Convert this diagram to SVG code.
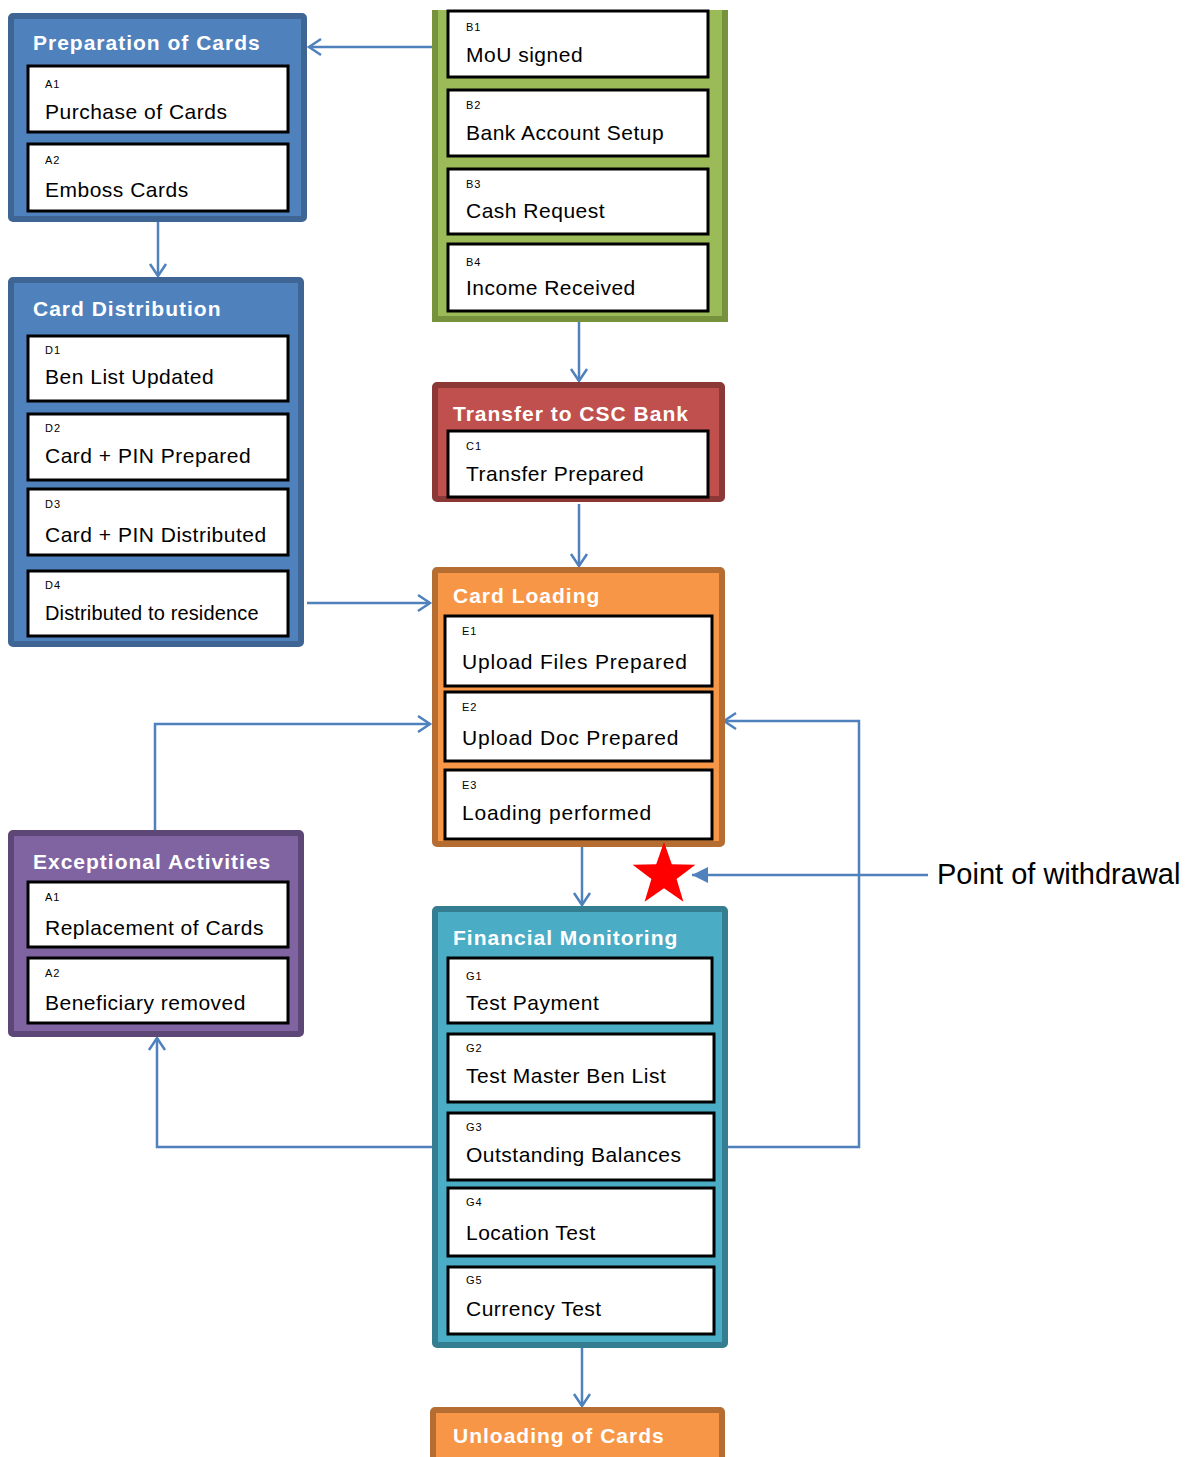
<svg xmlns="http://www.w3.org/2000/svg" width="1201" height="1457" viewBox="0 0 1201 1457">
<defs>
<style>
.ttl{font-family:"Liberation Sans",Arial,sans-serif;font-weight:bold;font-size:21px;fill:#fff;letter-spacing:1px}
.lbl{font-family:"Liberation Sans",Arial,sans-serif;font-size:11px;fill:#000;letter-spacing:1px}
.txt{font-family:"Liberation Sans",Arial,sans-serif;font-size:21px;fill:#000;letter-spacing:0.5px}
.sp{letter-spacing:0.8px}
.box{fill:#fff;stroke:#000;stroke-width:3}
.con{fill:none;stroke:#4f81bd;stroke-width:2.5}
.blue{fill:#4f81bd;stroke:#3e6594;stroke-width:6}
.green{fill:#9bbb59}
.red{fill:#c0504d;stroke:#8c3836;stroke-width:6}
.orange{fill:#f79646;stroke:#b66d31;stroke-width:6}
.purple{fill:#8064a2;stroke:#5c4776;stroke-width:6}
.teal{fill:#4bacc6;stroke:#357d91;stroke-width:6}
</style>
<marker id="arr" markerUnits="userSpaceOnUse" markerWidth="16" markerHeight="20" refX="13" refY="10" orient="auto">
<path d="M1,2 L13,10 L1,18" fill="none" stroke="#4f81bd" stroke-width="2.5"/>
</marker>
<marker id="tri" markerUnits="userSpaceOnUse" markerWidth="18" markerHeight="18" refX="16" refY="9" orient="auto">
<path d="M0,1 L16,9 L0,17 Z" fill="#4f81bd"/>
</marker>
</defs>

<g id="connectors">
<path class="con" d="M432,47 H309" marker-end="url(#arr)"/>
<path class="con" d="M158,222 V276" marker-end="url(#arr)"/>
<path class="con" d="M579,322 V381" marker-end="url(#arr)"/>
<path class="con" d="M579,504 V566" marker-end="url(#arr)"/>
<path class="con" d="M307,603 H430" marker-end="url(#arr)"/>
<path class="con" d="M155,830 V724 H430" marker-end="url(#arr)"/>
<path class="con" d="M582,847 V905" marker-end="url(#arr)"/>
<path class="con" d="M728,1147 H859 V721 H724" marker-end="url(#arr)"/>
<path class="con" d="M432,1147 H157 V1038" marker-end="url(#arr)"/>
<path class="con" d="M582,1348 V1406" marker-end="url(#arr)"/>
<path class="con" d="M928,875 H692" marker-end="url(#tri)"/>
</g>

<g id="prep">
<rect class="blue" x="11" y="16" width="293" height="203" rx="2"/>
<text class="ttl" x="33" y="50">Preparation of Cards</text>
<rect class="box" x="28" y="66" width="260" height="66"/>
<text class="lbl" x="45" y="88">A1</text>
<text class="txt" x="45" y="119">Purchase of Cards</text>
<rect class="box" x="28" y="144" width="260" height="67"/>
<text class="lbl" x="45" y="164">A2</text>
<text class="txt" x="45" y="197">Emboss Cards</text>
</g>

<g id="bank">
<rect class="green" x="432" y="10" width="296" height="312"/>
<path d="M435,10 V319 H725 V10" fill="none" stroke="#76923c" stroke-width="6"/>
<rect class="box" x="448" y="11" width="260" height="66"/>
<text class="lbl" x="466" y="31">B1</text>
<text class="txt" x="466" y="62">MoU signed</text>
<rect class="box" x="448" y="90" width="260" height="66"/>
<text class="lbl" x="466" y="109">B2</text>
<text class="txt" x="466" y="140">Bank Account Setup</text>
<rect class="box" x="448" y="169" width="260" height="65"/>
<text class="lbl" x="466" y="188">B3</text>
<text class="txt" x="466" y="218">Cash Request</text>
<rect class="box" x="448" y="244" width="260" height="67"/>
<text class="lbl" x="466" y="266">B4</text>
<text class="txt" x="466" y="295">Income Received</text>
</g>

<g id="distribution">
<rect class="blue" x="11" y="280" width="290" height="364" rx="2"/>
<text class="ttl" x="33" y="316">Card Distribution</text>
<rect class="box" x="28" y="336" width="260" height="65"/>
<text class="lbl" x="45" y="354">D1</text>
<text class="txt" x="45" y="384">Ben List Updated</text>
<rect class="box" x="28" y="414" width="260" height="66"/>
<text class="lbl" x="45" y="432">D2</text>
<text class="txt" x="45" y="463">Card + PIN Prepared</text>
<rect class="box" x="28" y="489" width="260" height="66"/>
<text class="lbl" x="45" y="508">D3</text>
<text class="txt" x="45" y="542">Card + PIN Distributed</text>
<rect class="box" x="28" y="571" width="260" height="65"/>
<text class="lbl" x="45" y="589">D4</text>
<text class="txt" x="45" y="620" style="font-size:20px;letter-spacing:0.15px">Distributed to residence</text>
</g>

<g id="transfer">
<rect class="red" x="435" y="385" width="287" height="114" rx="2"/>
<text class="ttl" x="453" y="421">Transfer to CSC Bank</text>
<rect class="box" x="448" y="431" width="260" height="66"/>
<text class="lbl" x="466" y="450">C1</text>
<text class="txt" x="466" y="481">Transfer Prepared</text>
</g>

<g id="loading">
<rect class="orange" x="435" y="570" width="287" height="274" rx="2"/>
<text class="ttl" x="453" y="603">Card Loading</text>
<rect class="box" x="445" y="616" width="267" height="70"/>
<text class="lbl" x="462" y="635">E1</text>
<text class="txt sp" x="462" y="669">Upload Files Prepared</text>
<rect class="box" x="445" y="692" width="267" height="69"/>
<text class="lbl" x="462" y="711">E2</text>
<text class="txt sp" x="462" y="745">Upload Doc Prepared</text>
<rect class="box" x="445" y="770" width="267" height="69"/>
<text class="lbl" x="462" y="789">E3</text>
<text class="txt sp" x="462" y="820">Loading performed</text>
</g>

<g id="exceptional">
<rect class="purple" x="11" y="833" width="290" height="201" rx="2"/>
<text class="ttl" x="33" y="869">Exceptional Activities</text>
<rect class="box" x="28" y="882" width="260" height="65"/>
<text class="lbl" x="45" y="901">A1</text>
<text class="txt" x="45" y="935">Replacement of Cards</text>
<rect class="box" x="28" y="958" width="260" height="65"/>
<text class="lbl" x="45" y="977">A2</text>
<text class="txt" x="45" y="1010">Beneficiary removed</text>
</g>

<g id="monitoring">
<rect class="teal" x="435" y="909" width="290" height="436" rx="2"/>
<text class="ttl" x="453" y="945">Financial Monitoring</text>
<rect class="box" x="448" y="958" width="264" height="65"/>
<text class="lbl" x="466" y="980">G1</text>
<text class="txt" x="466" y="1010">Test Payment</text>
<rect class="box" x="448" y="1034" width="266" height="68"/>
<text class="lbl" x="466" y="1052">G2</text>
<text class="txt" x="466" y="1083">Test Master Ben List</text>
<rect class="box" x="448" y="1113" width="266" height="67"/>
<text class="lbl" x="466" y="1131">G3</text>
<text class="txt" x="466" y="1162">Outstanding Balances</text>
<rect class="box" x="448" y="1188" width="266" height="68"/>
<text class="lbl" x="466" y="1206">G4</text>
<text class="txt" x="466" y="1240">Location Test</text>
<rect class="box" x="448" y="1267" width="266" height="67"/>
<text class="lbl" x="466" y="1284">G5</text>
<text class="txt" x="466" y="1316">Currency Test</text>
</g>

<g id="unloading">
<rect class="orange" x="433" y="1410" width="289" height="70" rx="2"/>
<text class="ttl" x="453" y="1443">Unloading of Cards</text>
</g>

<g id="withdrawal">
<polygon fill="#ff0000" points="664,842 671.8,864.3 695.4,864.8 676.6,879.1 683.4,901.7 664,888.2 644.6,901.7 651.4,879.1 632.6,864.8 656.2,864.3"/>
<text x="937" y="884" style="font-family:'Liberation Sans',Arial,sans-serif;font-size:29px;fill:#000">Point of withdrawal</text>
</g>
</svg>
